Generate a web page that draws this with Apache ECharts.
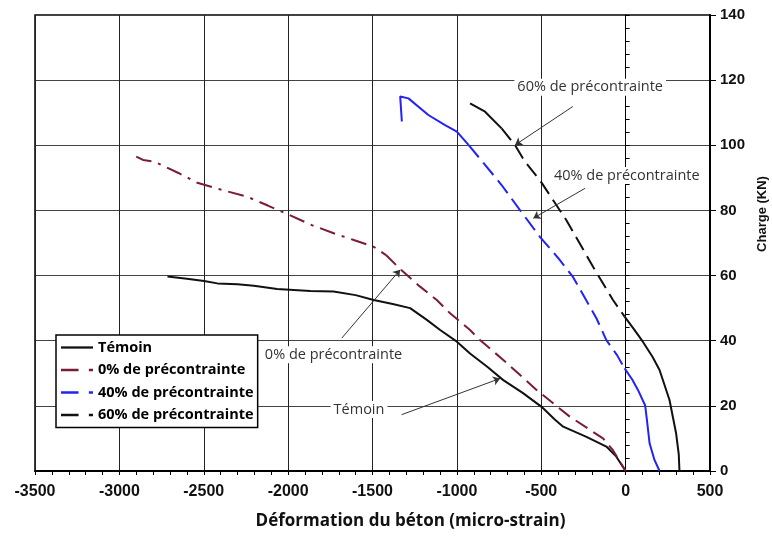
<!DOCTYPE html>
<html>
<head>
<meta charset="utf-8">
<script src="https://cdn.jsdelivr.net/npm/echarts@6/dist/echarts.min.js"></script>
<style>
html,body{margin:0;padding:0;background:#fff;overflow:hidden;}
#chart{width:772px;height:538px;}
</style>
</head>
<body>
<div id="chart"></div>
<script>
// ---------- data ----------
const xTicks = [-3500, -3000, -2500, -2000, -1500, -1000, -500, 0, 500];
const yTicks = [0, 20, 40, 60, 80, 100, 120, 140];

const seriesNames = ['Témoin', '0% de précontrainte', '40% de précontrainte', '60% de précontrainte'];

const temoinX = [-2715, -2600, -2498, -2419, -2300, -2203, -2065, -1868, -1731, -1600, -1493, -1380, -1277, -1178, -1099, -1000, -922, -820, -725, -610, -498, -420, -370, -232, -114, -55, 0];
const temoinY = [59.7, 59.0, 58.3, 57.6, 57.3, 56.9, 55.9, 55.3, 55.1, 54.0, 52.5, 51.3, 50.0, 46.4, 43.3, 39.7, 36.1, 32.0, 27.9, 24.0, 19.7, 15.8, 13.6, 10.5, 7.5, 4.4, 0];

const zeroX = [-2900, -2860, -2795, -2650, -2538, -2400, -2242, -2120, -2005, -1860, -1730, -1611, -1495, -1420, -1336, -1218, -1119, -1040, -922, -863, -725, -528, -331, -134, -75, 0];
const zeroY = [96.5, 95.5, 95.0, 91.5, 88.5, 86.4, 84.2, 81.5, 78.9, 75.5, 73.0, 70.9, 68.9, 66.3, 62.0, 56.6, 52.5, 48.4, 43.3, 40.2, 34.1, 24.9, 16.7, 10.0, 6.4, 0];

const fortyX = [-1326, -1336, -1287, -1169, -1070, -1000, -931, -833, -735, -626, -508, -400, -311, -245, -173, -114, -50, -6, 40, 73, 116, 126, 142, 171, 201];
const fortyY = [107.3, 115.0, 114.4, 109.3, 106.2, 104.2, 100.1, 94.0, 87.8, 80.1, 71.9, 65.4, 59.5, 53.5, 46.9, 40.2, 35.5, 31.5, 28.0, 24.9, 20.1, 15.8, 8.5, 3.4, 0];

const sixtyX = [-922, -833, -735, -656, -597, -508, -351, -193, -75, -6, 50, 102, 160, 201, 260, 299, 315, 319];
const sixtyY = [112.9, 110.3, 105.2, 100.1, 95.0, 89.3, 77.0, 62.7, 52.5, 47.4, 43.5, 39.7, 35.0, 31.0, 21.8, 11.6, 5.0, 0];

// annotation texts and their anchors (data units)
const annoTexts = ['60% de précontrainte', '40% de précontrainte', '0% de précontrainte', 'Témoin'];
const annoAt = [[-210, 117.8], [7, 90.7], [-1731, 35.7], [-1580, 18.9]];
const arrowFrom = [[-313, 111.9], [-240, 86.8], [-1682, 40.8], [-1327, 17.3]];
const arrowTo = [[-655, 100.1], [-547, 77.6], [-1336, 61.8], [-744, 28.4]];

// ---------- styling ----------
const DASHDOT = [16, 7, 3, 7];
const DASH = [14, 7];
const colors = ['#111111', '#7a1c36', '#2323f5', '#111111'];

function pairs(xs, ys, from, to) {
  const out = [];
  for (let i = from; i <= to; i++) out.push([xs[i], ys[i]]);
  return out;
}
// segments: [fromIndex, toIndex, lineType]
const curves = [
  {name: seriesNames[0], xs: temoinX, ys: temoinY, color: colors[0], segs: [[0, temoinX.length - 1, 'solid']]},
  {name: seriesNames[1], xs: zeroX, ys: zeroY, color: colors[1], segs: [[0, 13, DASHDOT], [13, zeroX.length - 1, DASH]]},
  {name: seriesNames[2], xs: fortyX, ys: fortyY, color: colors[2], segs: [[0, 6, 'solid'], [6, 17, [16, 7]], [17, fortyX.length - 1, 'solid']]},
  {name: seriesNames[3], xs: sixtyX, ys: sixtyY, color: colors[3], segs: [[0, 2, 'solid'], [2, 9, [15, 7]], [9, sixtyX.length - 1, 'solid']]}
];

const series = [];
curves.forEach(c => {
  c.segs.forEach(s => {
    series.push({
      name: c.name, type: 'line', symbol: 'none', showSymbol: false, z: 3,
      data: pairs(c.xs, c.ys, s[0], s[1]),
      lineStyle: {color: c.color, width: 2, type: s[2]},
      itemStyle: {color: c.color}
    });
  });
});

// annotations
series.push({
  name: '__anno', type: 'line', data: [], z: 6, silent: true,
  markLine: {
    silent: true, animation: false,
    symbol: ['none', 'arrow'], symbolSize: 7,
    label: {show: false},
    lineStyle: {color: '#333', width: 1, type: 'solid'},
    data: arrowFrom.map((f, i) => [{coord: f}, {coord: arrowTo[i]}])
  },
  markPoint: {
    silent: true, animation: false,
    symbol: 'rect', symbolSize: 0,
    label: {show: true, position: 'inside', formatter: '{b}', color: '#333',
            fontFamily: 'Open Sans', fontSize: 14.5, backgroundColor: '#fff', padding: [1, 3]},
    data: annoTexts.map((t, i) => ({name: t, coord: annoAt[i]}))
  }
});

const tickFont = {fontFamily: 'Liberation Sans', fontWeight: 'bold', color: '#111'};
const SOLID_ICON = 'path://M0,0 L35,0 L35,2.5 L0,2.5 Z';
const DASH_ICON = 'path://M0,0 L17,0 L17,2.5 L0,2.5 Z M27,0 L31,0 L31,2.5 L27,2.5 Z';

const option = {
  animation: false,
  backgroundColor: '#fff',
  grid: {left: 35, right: 62, top: 15, bottom: 67, containLabel: false, outerBoundsMode: 'none',
         show: true, borderColor: '#000', borderWidth: 1.5},
  legend: {
    left: 56, top: 335, orient: 'vertical',
    backgroundColor: '#fff', borderColor: '#000', borderWidth: 1.5,
    padding: [5, 4, 5, 5], itemWidth: 32, itemHeight: 14, itemGap: 7.5,
    textStyle: {fontFamily: 'Open Sans', fontWeight: 'bold', fontSize: 14.5, color: '#000'},
    data: [
      {name: seriesNames[0], icon: SOLID_ICON},
      {name: seriesNames[1], icon: DASH_ICON},
      {name: seriesNames[2], icon: DASH_ICON},
      {name: seriesNames[3], icon: DASH_ICON}
    ]
  },
  xAxis: {
    type: 'value', min: xTicks[0], max: xTicks[xTicks.length - 1], interval: 500,
    axisLine: {onZero: false, lineStyle: {color: '#000', width: 2}},
    axisTick: {show: true, length: 4, lineStyle: {color: '#000'}},
    minorTick: {show: true, splitNumber: 5, length: 4, lineStyle: {color: '#000'}},
    splitLine: {show: true, lineStyle: {color: '#222', width: 1}},
    axisLabel: Object.assign({fontSize: 16, margin: 13, formatter: v => String(v)}, tickFont),
    name: 'Déformation du béton (micro-strain)', nameLocation: 'middle', nameGap: 42,
    nameTextStyle: {fontFamily: 'Open Sans', fontWeight: 'bold', fontSize: 17, color: '#111', padding: [0, 0, 0, 76]}
  },
  yAxis: [
    {
      type: 'value', min: yTicks[0], max: yTicks[yTicks.length - 1], interval: 20, position: 'right',
      axisLine: {show: true, onZero: false, lineStyle: {color: '#000', width: 2}},
      axisTick: {show: true, length: 6, lineStyle: {color: '#000'}},
      splitLine: {show: true, lineStyle: {color: '#444', width: 1}},
      axisLabel: Object.assign({fontSize: 15, margin: 10, formatter: v => String(v)}, tickFont),
      name: 'Charge (KN)', nameLocation: 'middle', nameGap: 46,
      nameTextStyle: {fontFamily: 'Liberation Sans', fontWeight: 'bold', fontSize: 13, color: '#111', padding: [0, 0, 0, 58]}
    },
    {
      type: 'value', min: yTicks[0], max: yTicks[yTicks.length - 1], interval: 20, position: 'right',
      axisLine: {show: true, onZero: true, lineStyle: {color: '#000', width: 1}},
      axisTick: {show: true, length: 4, lineStyle: {color: '#000'}},
      minorTick: {show: true, splitNumber: 5, length: 4, lineStyle: {color: '#000'}},
      splitLine: {show: false},
      axisLabel: {show: false}
    }
  ],
  series: series
};

const chart = echarts.init(document.getElementById('chart'), null, {renderer: 'canvas'});
chart.setOption(option);
</script>
</body>
</html>
